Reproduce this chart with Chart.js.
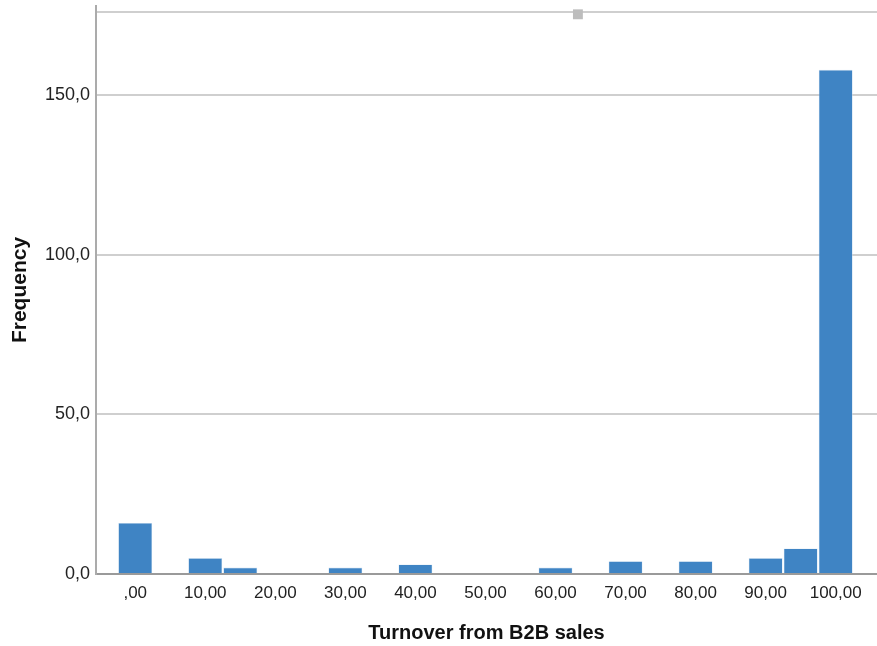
<!DOCTYPE html>
<html>
<head>
<meta charset="utf-8">
<script src="https://cdn.jsdelivr.net/npm/chart.js@4/dist/chart.umd.min.js"></script>
<style>
  html, body { margin: 0; padding: 0; background: #fff; }
  canvas { display: block; }
</style>
</head>
<body>
<canvas id="histChart" width="877" height="646"></canvas>
<script>
        // bin centres (width 5) and counts
        const binCenters = [0, 5, 10, 15, 20, 25, 30, 35, 40, 45, 50, 55, 60, 65, 70, 75, 80, 85, 90, 95, 100];
        const counts = [16, 0, 5, 2, 0, 0, 2, 0, 3, 0, 0, 0, 2, 0, 4, 0, 4, 0, 5, 8, 158];

        const xTicks = [0, 10, 20, 30, 40, 50, 60, 70, 80, 90, 100];
        const yTicks = [0, 50, 100, 150];
        const yTop = 176;

        // small grey handle at the top of the frame
        const handlePoint = [{ x: 63.2, y: 175.4 }];

        const xTitle = 'Turnover from B2B sales';
        const yTitle = 'Frequency';

        const fontFamily = '"Liberation Sans", Arial, Helvetica, sans-serif';

        function fmtX(v) {
            return v === 0 ? ',00' : v + ',00';
        }

        function fmtY(v) {
            return v === yTop ? '' : v + ',0';
        }

        const ctx = document.getElementById('histChart').getContext('2d');

        new Chart(ctx, {
            type: 'bar',
            data: {
                datasets: [
                    {
                        type: 'scatter',
                        data: handlePoint,
                        pointStyle: 'rect',
                        pointRadius: 7,
                        backgroundColor: '#bdbdbd',
                        borderWidth: 0,
                        clip: false,
                        order: 0
                    },
                    {
                        data: binCenters.map((x, i) => ({ x: x, y: counts[i] })),
                        backgroundColor: '#3f84c4',
                        borderColor: '#cfe0f0',
                        borderWidth: 0.6,
                        categoryPercentage: 1,
                        barPercentage: 0.97,
                        order: 1
                    }
                ]
            },
            options: {
                responsive: false,
                animation: false,
                layout: { autoPadding: false, padding: { top: 6, right: 0, left: 0, bottom: 0 } },
                plugins: {
                    legend: { display: false },
                    tooltip: { enabled: false }
                },
                scales: {
                    x: {
                        type: 'linear',
                        offset: false,
                        min: -5.6,
                        max: 105.9,
                        afterBuildTicks: scale => { scale.ticks = xTicks.map(v => ({ value: v })); },
                        afterFit: scale => {
                            scale.height = 72;
                            scale.paddingLeft = 0;
                            scale.paddingRight = 0;
                        },
                        grid: { display: false, drawTicks: false, offset: false },
                        border: { display: true, color: '#9a9a9a', width: 2 },
                        ticks: {
                            callback: v => fmtX(v),
                            color: '#222',
                            padding: 9,
                            maxRotation: 0,
                            autoSkip: false,
                            font: { family: fontFamily, size: 17 }
                        },
                        title: {
                            display: true,
                            text: xTitle,
                            color: '#111',
                            padding: { top: 4, bottom: 1 },
                            font: { family: fontFamily, size: 20, weight: 'bold' }
                        }
                    },
                    y: {
                        min: 0,
                        max: 178,
                        afterBuildTicks: scale => { scale.ticks = yTicks.concat([yTop]).map(v => ({ value: v })); },
                        afterFit: scale => {
                            scale.width = 96;
                            scale.paddingTop = 0;
                            scale.paddingBottom = 0;
                        },
                        grid: { color: '#cfcfcf', lineWidth: 2, drawTicks: false },
                        border: { display: true, color: '#ababab', width: 2 },
                        ticks: {
                            callback: v => fmtY(v),
                            color: '#222',
                            padding: 6,
                            font: { family: fontFamily, size: 18 }
                        },
                        title: {
                            display: true,
                            text: yTitle,
                            color: '#111',
                            padding: { top: 8, bottom: 4 },
                            font: { family: fontFamily, size: 21, weight: 'bold' }
                        }
                    }
                }
            }
        });
</script>
</body>
</html>
